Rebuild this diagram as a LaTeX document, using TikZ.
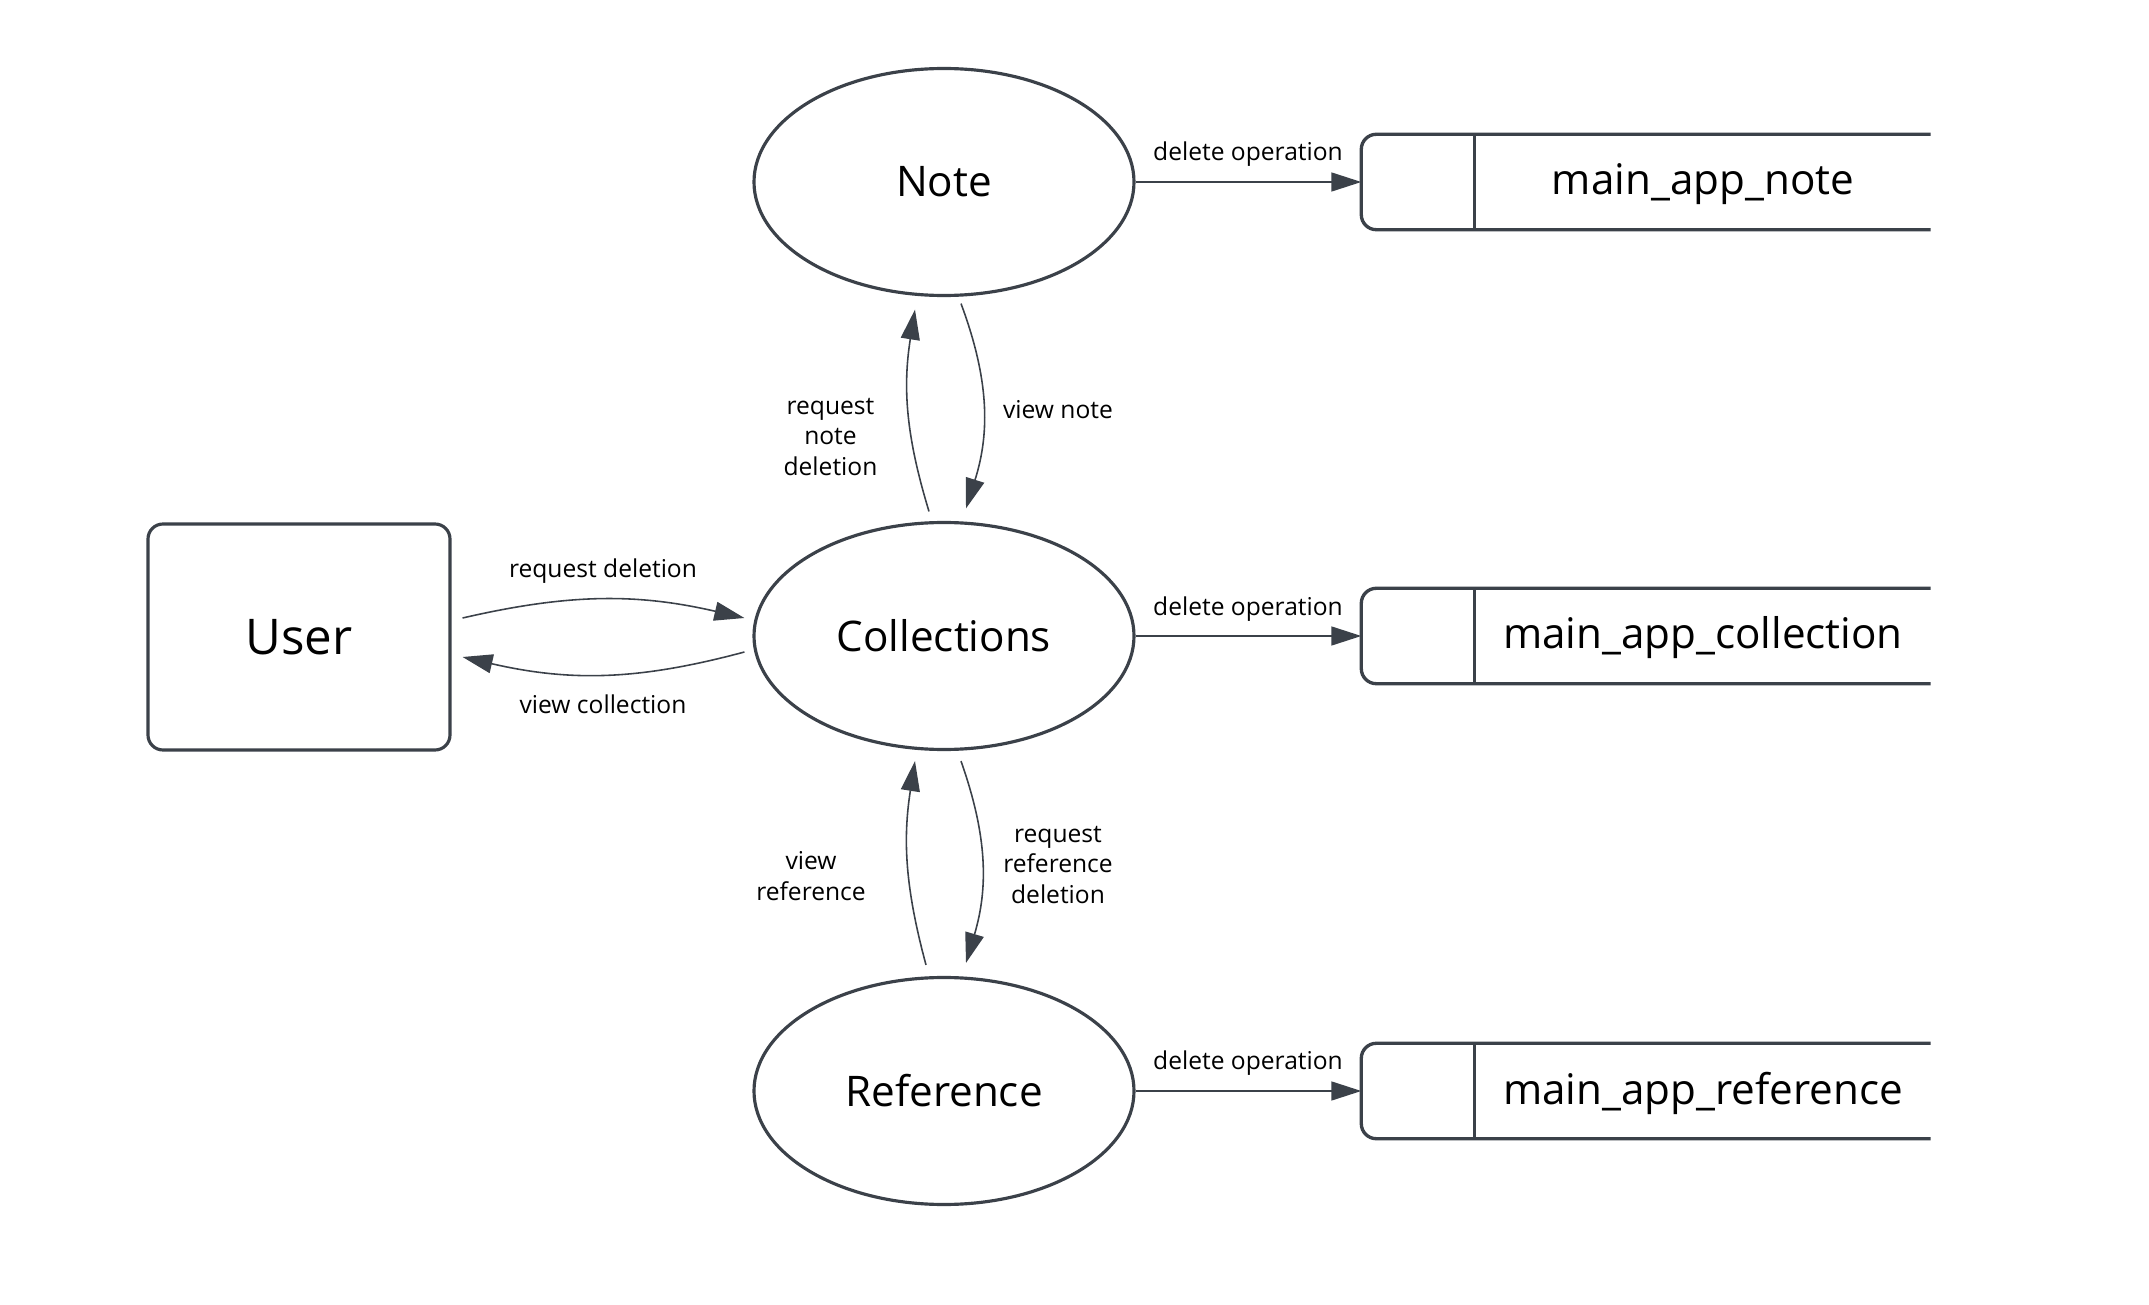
\documentclass[tikz,border=0pt]{standalone}
\usepackage{fontspec}
\setmainfont{Open Sans}
\usepackage{tikz}
\usetikzlibrary{shapes,arrows.meta,positioning}

\definecolor{linegray}{HTML}{3B4149}

\begin{document}
\begin{tikzpicture}[
    process/.style={ellipse, draw=linegray, line width=0.9pt, minimum width=3.8cm, minimum height=2.27cm, font=\fontsize{12}{14}\selectfont},
    entity/.style={rectangle, draw=linegray, line width=0.9pt, minimum width=3.02cm, minimum height=2.26cm, rounded corners=1.5mm, font=\fontsize{14}{16}\selectfont},
    store/.style={rectangle, minimum width=5.68cm, minimum height=0.94cm, inner sep=0pt},
    storeline/.style={draw=linegray, line width=0.95pt},
    storetext/.style={font=\fontsize{12}{14}\selectfont},
    arrow/.style={-{Triangle[length=3mm,width=1.9mm]}, draw=linegray, line width=0.45pt},
    lbl/.style={font=\fontsize{7}{8.7}\selectfont, align=center}
]
\useasboundingbox (0,0) rectangle (21.49,-13.05);

% External entity
\node[entity] at (2.99,-6.37) (user) {User};

% Processes
\node[process] at (9.44,-1.82) (note) {Note};
\node[process] at (9.44,-6.36) (coll) {Collections};
\node[process] at (9.44,-10.91) (ref) {Reference};

% Data stores
\node[store] at (16.46,-1.82) (notestore) {};
\node[store] at (16.46,-6.36) (collstore) {};
\node[store] at (16.46,-10.91) (refstore) {};
\draw[storeline, rounded corners=1.5mm] (notestore.north east) -- (notestore.north west) -- (notestore.south west) -- (notestore.south east);
\draw[storeline, rounded corners=1.5mm] (collstore.north east) -- (collstore.north west) -- (collstore.south west) -- (collstore.south east);
\draw[storeline, rounded corners=1.5mm] (refstore.north east) -- (refstore.north west) -- (refstore.south west) -- (refstore.south east);
\draw[storeline] ([xshift=1.13cm]notestore.north west) -- ([xshift=1.13cm]notestore.south west);
\draw[storeline] ([xshift=1.13cm]collstore.north west) -- ([xshift=1.13cm]collstore.south west);
\draw[storeline] ([xshift=1.13cm]refstore.north west) -- ([xshift=1.13cm]refstore.south west);
\node[storetext] at (17.03,-1.84) (notetext) {main\_app\_note};
\node[storetext] at (17.03,-6.38) (colltext) {main\_app\_collection};
\node[storetext] at (17.03,-10.93) (reftext) {main\_app\_reference};

% User <-> Collections
\draw[arrow] ([xshift=1.1mm,yshift=1.9mm]user.east) to[bend left=13] ([xshift=-0.8mm,yshift=1.8mm]coll.west);
\draw[arrow] ([xshift=-0.8mm,yshift=-1.6mm]coll.west) to[bend left=14] ([xshift=1.1mm,yshift=-2mm]user.east);
\node[lbl] at (6.03,-5.71) (reqdel) {request deletion};
\node[lbl] at (6.03,-7.04) (viewcoll) {view collection};

% Collections <-> Note
\draw[arrow] ([xshift=-1.5mm,yshift=0.95mm]coll.north) to[bend left=13] ([xshift=-2.9mm,yshift=-1.25mm]note.south);
\draw[arrow] ([xshift=1.7mm,yshift=-0.65mm]note.south) to[bend left=19] ([xshift=2.2mm,yshift=1.25mm]coll.north);
\node[lbl] at (8.305,-4.37) (reqnote) {request\\note\\deletion};
\node[lbl] at (10.58,-4.10) (viewnote) {view note};

% Reference <-> Collections
\draw[arrow] ([xshift=-1.8mm,yshift=1.1mm]ref.north) to[bend left=12] ([xshift=-2.9mm,yshift=-1mm]coll.south);
\draw[arrow] ([xshift=1.7mm,yshift=-1mm]coll.south) to[bend left=18] ([xshift=2.2mm,yshift=1.3mm]ref.north);
\node[lbl] at (8.11,-8.76) (viewref) {view\\reference};
\node[lbl] at (10.58,-8.65) (reqref) {request\\reference\\deletion};

% Delete operations
\draw[arrow] (note.east) -- (notestore.west);
\draw[arrow] (coll.east) -- (collstore.west);
\draw[arrow] (ref.east) -- (refstore.west);
\node[lbl] at (12.48,-1.54) (delnote) {delete operation};
\node[lbl] at (12.48,-6.09) (delcoll) {delete operation};
\node[lbl] at (12.48,-10.63) (delref) {delete operation};

\end{tikzpicture}
\end{document}
